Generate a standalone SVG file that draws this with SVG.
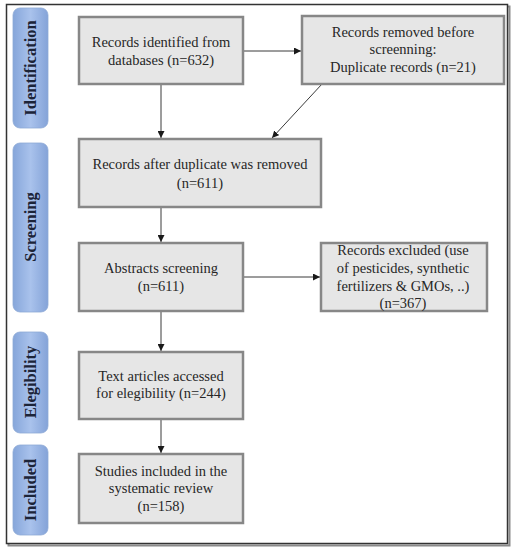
<svg xmlns="http://www.w3.org/2000/svg" width="515" height="550" viewBox="0 0 515 550">
<defs>
<linearGradient id="tab" x1="0" y1="0" x2="1" y2="0">
<stop offset="0" stop-color="#86a6da"/>
<stop offset="0.5" stop-color="#a9c2ec"/>
<stop offset="1" stop-color="#84a3d8"/>
</linearGradient>
<marker id="ah" viewBox="0 0 10 10" refX="10" refY="5" markerWidth="7" markerHeight="7" markerUnits="userSpaceOnUse" orient="auto">
<path d="M0,0 L10,5 L0,10 z" fill="#1a1a1a"/>
</marker>
</defs>
<style>
.box{fill:#e6e6e6;stroke:#878787;stroke-width:2.5}
.shadow{fill:#c8c8c8}
.t{font-family:"Liberation Serif","Times New Roman",serif;font-size:14.5px;fill:#262626;text-anchor:middle}
.tab{fill:url(#tab);stroke:#8eaad6;stroke-width:0.8}
.tl{font-family:"Liberation Serif","Times New Roman",serif;font-size:16.5px;font-weight:bold;fill:#1c2438;text-anchor:middle}
.c{stroke:#3a3a3a;stroke-width:1;fill:none;marker-end:url(#ah)}
</style>
<rect width="515" height="550" fill="#ffffff"/>
<rect x="8.5" y="6.5" width="501" height="539" fill="none" stroke="#8a8a8a" stroke-width="2"/>
<rect x="6.5" y="4.5" width="501" height="539" fill="#ffffff" stroke="#333333" stroke-width="1.5"/>

<g id="tab-identification">
<rect class="tab" x="13" y="8" width="35" height="120" rx="7"/>
<text class="tl" transform="translate(36,68) rotate(-90)">Identification</text>
</g>
<g id="tab-screening">
<rect class="tab" x="13" y="143" width="35" height="169" rx="7"/>
<text class="tl" transform="translate(36,227) rotate(-90)">Screening</text>
</g>
<g id="tab-elegibility">
<rect class="tab" x="13" y="332" width="35" height="101" rx="7"/>
<text class="tl" transform="translate(36,382) rotate(-90)">Elegibility</text>
</g>
<g id="tab-included">
<rect class="tab" x="13" y="445" width="35" height="90" rx="7"/>
<text class="tl" transform="translate(36,490) rotate(-90)">Included</text>
</g>

<g id="connectors">
<line class="c" x1="243" y1="51" x2="301" y2="51"/>
<line class="c" x1="161" y1="84" x2="161" y2="138"/>
<line class="c" x1="322" y1="84" x2="272" y2="138"/>
<line class="c" x1="161" y1="207" x2="161" y2="242"/>
<line class="c" x1="243" y1="277" x2="320" y2="277"/>
<line class="c" x1="161" y1="311" x2="161" y2="351"/>
<line class="c" x1="161" y1="419" x2="161" y2="453"/>
</g>

<g id="n1">
<rect class="box" x="79" y="17" width="164" height="67"/>
<text class="t" x="161" y="47">Records identified  from</text>
<text class="t" x="161" y="65">databases (n=632)</text>
</g>
<g id="n2">
<rect class="box" x="302" y="16" width="202" height="68"/>
<text class="t" x="403" y="37">Records removed before</text>
<text class="t" x="403" y="54">screenning:</text>
<text class="t" x="403" y="72">Duplicate records (n=21)</text>
</g>
<g id="n3">
<rect class="box" x="79" y="139" width="242" height="68"/>
<text class="t" x="200" y="169">Records after duplicate was removed</text>
<text class="t" x="200" y="188">(n=611)</text>
</g>
<g id="n4">
<rect class="box" x="79" y="243" width="164" height="68"/>
<text class="t" x="161" y="273">Abstracts screening</text>
<text class="t" x="161" y="291">(n=611)</text>
</g>
<g id="n5">
<rect class="box" x="321" y="243" width="166" height="68"/>
<text class="t" x="403" y="255">Records excluded (use</text>
<text class="t" x="403" y="273">of pesticides, synthetic</text>
<text class="t" x="403" y="291">fertilizers  &amp; GMOs, ..)</text>
<text class="t" x="403" y="308">(n=367)</text>
</g>
<g id="n6">
<rect class="box" x="79" y="352" width="164" height="67"/>
<text class="t" x="161" y="381">Text  articles  accessed</text>
<text class="t" x="161" y="398">for elegibility  (n=244)</text>
</g>
<g id="n7">
<rect class="box" x="79" y="454" width="164" height="69"/>
<text class="t" x="161" y="476">Studies included in the</text>
<text class="t" x="161" y="493">systematic review</text>
<text class="t" x="161" y="511">(n=158)</text>
</g>
</svg>
